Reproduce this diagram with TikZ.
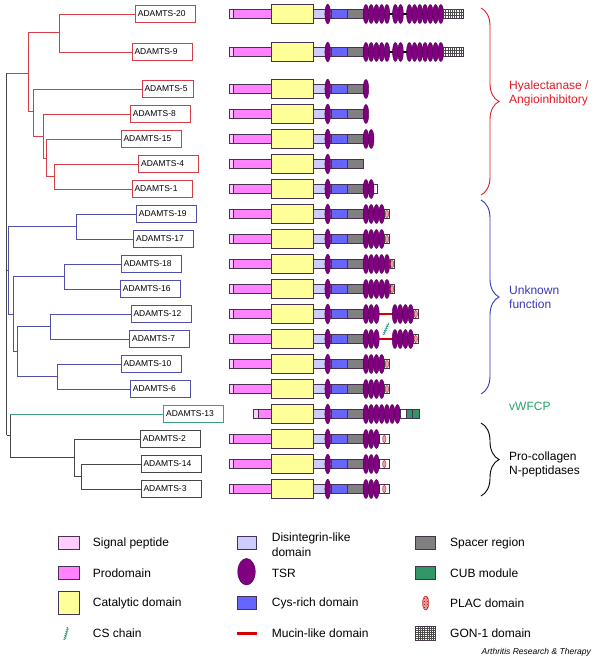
\documentclass[tikz,border=0pt]{standalone}
\usepackage{fontspec}
\setmainfont{Liberation Sans}
\usetikzlibrary{decorations.pathreplacing,decorations.pathmorphing,patterns}
\definecolor{sigcol}{RGB}{255,204,255}
\definecolor{procol}{RGB}{255,130,255}
\definecolor{catcol}{RGB}{255,255,153}
\definecolor{discol}{RGB}{204,204,255}
\definecolor{tsrcol}{RGB}{128,0,128}
\definecolor{cyscol}{RGB}{102,102,255}
\definecolor{spacol}{RGB}{128,128,128}
\definecolor{cubcol}{RGB}{51,150,102}
\definecolor{placcol}{RGB}{240,160,160}
\definecolor{mucol}{RGB}{215,0,0}
\definecolor{cscol}{RGB}{40,150,130}
\definecolor{edgecol}{RGB}{70,50,80}
\definecolor{treered}{RGB}{212,60,70}
\definecolor{treeblue}{RGB}{80,80,170}
\definecolor{treeteal}{RGB}{60,160,120}
\definecolor{treegray}{RGB}{70,70,70}
\definecolor{grpred}{RGB}{225,25,35}
\definecolor{grpblue}{RGB}{55,55,185}
\definecolor{grpteal}{RGB}{40,160,105}
\newcommand{\domrow}[3]{%
\draw[dline,fill=sigcol] (#2,#1-4.5) rectangle (#3,#1+4.5);
\draw[dline,fill=procol] (#3,#1-4.5) rectangle (271.7,#1+4.5);
\draw[dline,fill=catcol] (271.7,#1-9.5) rectangle (313.7,#1+9.5);
\draw[dline,fill=discol] (313.7,#1-4.5) rectangle (331,#1+4.5);
\draw[dline,fill=cyscol] (331,#1-4.5) rectangle (347.7,#1+4.5);
\draw[dline,fill=spacol] (347.7,#1-4.5) rectangle (363.3,#1+4.5);
\draw[tsrline,fill=tsrcol] (327.7,#1) ellipse [x radius=2.8pt,y radius=9.8pt];}
\newcommand{\tsrs}[3]{\foreach \k in {1,...,#3}{\draw[tsrline,fill=tsrcol] ({#2+(\k-0.5)*5.25},#1) ellipse [x radius=2.8pt,y radius=9.5pt];}}
\newcommand{\plac}[2]{\draw[dline,fill=white] (#2,#1-4.5) rectangle ++(4.6,9);
\draw[placline,fill=placcol] ({#2+2.3},#1) ellipse [x radius=1.7pt,y radius=3.6pt];}
\newcommand{\gonbox}[2]{\draw[dline,fill=white] (#2,#1-4.5) rectangle ++(20,9);
\foreach \g in {1,...,8}{\draw[gridline] ({#2+\g*2.22},#1-4.5) -- ++(0,9);}
\draw[gridline] (#2,#1-1.5) -- ++(20,0) (#2,#1+1.5) -- ++(20,0);}
\begin{document}
\begin{tikzpicture}[x=1pt,y=-1pt,
 dline/.style={draw=edgecol,line width=.5pt},
 tsrline/.style={draw=tsrcol!60!black,line width=.4pt},
 placline/.style={draw=red!60!black,line width=.3pt},
 gridline/.style={draw=black!70,line width=.3pt},
 lbl/.style={draw,line width=.75pt,fill=white,anchor=west,minimum height=17pt,inner xsep=2.5pt,inner ysep=0pt,font=\fontsize{8.5}{10}\selectfont,align=left},
 roottree/.style={draw=treegray,line width=.7pt},
 redtree/.style={draw=treered,line width=.7pt},
 bluetree/.style={draw=treeblue,line width=.7pt},
 blacktree/.style={draw=treegray,line width=.7pt},
 tealtree/.style={draw=treeteal,line width=.7pt},
 grpbrace/.style={decorate,decoration={brace,amplitude=18pt},line width=.9pt},
 grptxt/.style={anchor=west,align=left,inner sep=0pt,font=\fontsize{12}{14}\selectfont},
 legtxt/.style={anchor=west,align=left,inner sep=0pt,font=\fontsize{12}{15.5}\selectfont},
 legbox/.style={draw=edgecol,line width=.6pt},
 csline/.style={draw=cscol,line width=.6pt,decorate,decoration={zigzag,amplitude=.9pt,segment length=2pt}}]
\useasboundingbox (0,0) rectangle (600,660);
\foreach \n/\x/\y/\c/\w in {20/135/14/treered/55,9/131.7/52/treered/55,5/141.7/89/treered/46,8/130/114/treered/55,15/120.7/139/treered/55,4/138.3/164/treered/55,1/131.7/189/treered/55,
 19/136/214/treeblue/55,17/133.3/239/treeblue/55,18/121/264/treeblue/55,16/120/289/treeblue/55,12/130.7/314/treeblue/55,7/129.3/339/treeblue/55,10/120.7/364/treeblue/55,6/130/389/treeblue/55,
 13/163.3/414/treeteal/55,2/140/439/treegray/55,14/140.7/464/treegray/55,3/140.7/489/treegray/55}
 \node[lbl,draw=\c,text width=\w pt] (a\n) at (\x,\y) {ADAMTS-\n};
\coordinate (rt) at (6.7,73); \coordinate (rb) at (6.7,435);
\coordinate (r1) at (28.3,73); \coordinate (r2) at (59.3,32.3); \coordinate (r3) at (33.3,111);
\coordinate (r4) at (43.3,136); \coordinate (r5) at (46.7,158.3); \coordinate (r6) at (54,176.7);
\coordinate (b1) at (8.3,270); \coordinate (b2) at (76.7,226.7); \coordinate (b3) at (13.3,314); \coordinate (b4) at (64.3,276.7);
\coordinate (b5) at (17.3,351.7); \coordinate (b6) at (50,326.7); \coordinate (b7) at (57.3,376.7);
\coordinate (l1) at (10,435); \coordinate (l2) at (74,457.7); \coordinate (l3) at (81,476.7);
\draw[roottree] (rt) -- (rb);
\draw[redtree] (rt) -- (r1) (r1) |- (r2) (r1) |- (r3) (r2) |- (a20.west) (r2) |- (a9.west) (r3) |- (a5.west) (r3) |- (r4)
 (r4) |- (a8.west) (r4) |- (r5) (r5) |- (a15.west) (r5) |- (r6) (r6) |- (a4.west) (r6) |- (a1.west);
\draw[bluetree] (rt|-b1) -- (b1) (b1) |- (b2) (b1) |- (b3) (b2) |- (a19.west) (b2) |- (a17.west) (b3) |- (b4) (b3) |- (b5)
 (b4) |- (a18.west) (b4) |- (a16.west) (b5) |- (b6) (b5) |- (b7) (b6) |- (a12.west) (b6) |- (a7.west) (b7) |- (a10.west) (b7) |- (a6.west);
\draw[blacktree] (rb) -- (l1) (l1) -- (l1|-a13.west) (l1) |- (l2) (l2) |- (a2.west) (l2) |- (l3) (l3) |- (a14.west) (l3) |- (a3.west);
\draw[tealtree] (l1|-a13.west) -- (a13.west);
\foreach \y in {14,52,89,114,139,164,189,214,239,264,289,314,339,364,389,439,464,489} \domrow{\y}{229.3}{233.3};
\domrow{414}{253.3}{258.3}
\foreach \y in {14,52}{\draw[line width=2pt] (363.3,\y) -- (443.3,\y); \tsrs{\y}{363.3}{5} \tsrs{\y}{392.7}{2} \tsrs{\y}{406.7}{7} \gonbox{\y}{443.3}}
\tsrs{89}{363.3}{1} \tsrs{114}{363.3}{1} \tsrs{139}{363.3}{2}
\draw[dline,fill=white] (363.3,184.5) rectangle (377.3,193.5); \tsrs{189}{363.3}{2}
\foreach \y in {214,239,364,389}{\tsrs{\y}{363.3}{4} \plac{\y}{384.6}}
\foreach \y in {264,289}{\tsrs{\y}{363.3}{5} \plac{\y}{389.8}}
\foreach \y in {314,339}{\draw[mucol,line width=2.6pt] (378,\y) -- (393,\y); \tsrs{\y}{363.3}{3} \tsrs{\y}{392.3}{4} \plac{\y}{413.5}}
\draw[csline] (383.5,335) -- (388.5,323);
\tsrs{414}{363.3}{7}
\draw[dline,fill=white] (400,409.5) rectangle (406,418.5);
\draw[dline,fill=cubcol] (406,409.5) rectangle (412.7,418.5) (412.7,409.5) rectangle (419.3,418.5);
\foreach \y in {439,464,489}{\draw[dline,fill=white] (379.3,\y-4.5) rectangle (389.3,\y+4.5); \tsrs{\y}{363.3}{3}
 \draw[placline,fill=placcol] (384.3,\y) ellipse [x radius=1.7pt,y radius=3.6pt];}
\draw[grpbrace,draw=grpred] (481,8) -- (481,195);
\draw[grpbrace,draw=grpblue] (481,200) -- (481,394);
\draw[grpbrace,draw=black] (481,423) -- (481,496);
\node[grptxt,text=grpred] (ghya) at (509,93) {Hyalectanase /\\Angioinhibitory};
\node[grptxt,text=grpblue] (gunk) at (509,297.5) {Unknown\\function};
\node[grptxt,text=grpteal] (gvwf) at (509,406) {vWFCP};
\node[grptxt] (gpro) at (509,464) {Pro-collagen\\N-peptidases};
\draw[legbox,fill=sigcol] (58.3,536) rectangle (79,549); \node[legtxt] (lsig) at (92.7,543) {Signal peptide};
\draw[legbox,fill=procol] (58.3,566) rectangle (79,579); \node[legtxt] (lpro) at (92.7,573) {Prodomain};
\draw[legbox,fill=catcol] (58.3,591.7) rectangle (79,614.3); \node[legtxt] (lcat) at (92.7,603) {Catalytic domain};
\draw[csline] (64.5,640) -- (68,627); \node[legtxt] (lcs) at (92.7,633.5) {CS chain};
\draw[legbox,fill=discol] (237.3,536.5) rectangle (256.7,549); \node[legtxt] (ldis) at (271.7,544.5) {Disintegrin-like\\domain};
\draw[tsrline,fill=tsrcol] (246.5,571.7) ellipse [x radius=8.8pt,y radius=13.3pt]; \node[legtxt] (ltsr) at (271.7,573) {TSR};
\draw[legbox,fill=cyscol] (237.3,596.5) rectangle (256.7,609.5); \node[legtxt] (lcys) at (271.7,603) {Cys-rich domain};
\draw[mucol,line width=3pt] (237.3,633.5) -- (256.7,633.5); \node[legtxt] (lmuc) at (271.7,633.5) {Mucin-like domain};
\draw[legbox,fill=spacol] (415.7,536.5) rectangle (435.7,549.5); \node[legtxt] (lspa) at (450,543) {Spacer region};
\draw[legbox,fill=cubcol] (415.7,566.5) rectangle (435.7,579.5); \node[legtxt] (lcub) at (450,573) {CUB module};
\draw[placline,fill=placcol] (425.7,603) ellipse [x radius=3.2pt,y radius=7pt];
\fill[pattern=crosshatch dots,pattern color=red!65!black] (425.7,603) ellipse [x radius=3.2pt,y radius=7pt]; \node[legtxt] (lpla) at (450,603) {PLAC domain};
\draw[legbox,fill=white] (415.7,626.5) rectangle (435.7,640.5);
\foreach \g in {1,...,8}{\draw[gridline] ({415.7+\g*2.22},626.5) -- ++(0,14);}
\foreach \g in {1,...,6}{\draw[gridline] (415.7,{626.5+\g*2}) -- ++(20,0);}
\node[legtxt] (lgon) at (450,633.5) {GON-1 domain};
\node[anchor=east,inner sep=0pt,font=\fontsize{8.5}{10}\selectfont\itshape] (credit) at (591,652) {Arthritis Research \& Therapy};
\end{tikzpicture}
\end{document}
